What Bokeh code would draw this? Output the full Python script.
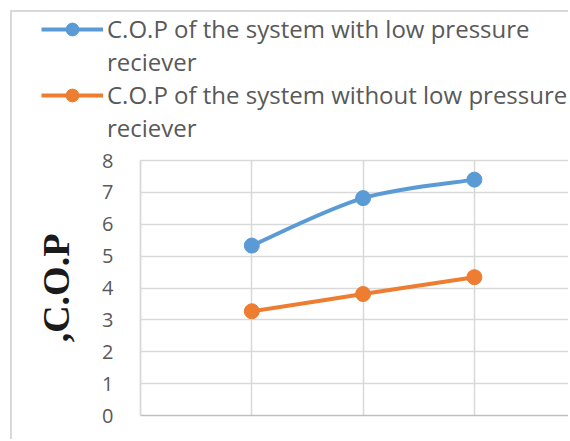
from bokeh.plotting import figure
from bokeh.models import Range1d, FixedTicker, Legend, LegendItem
from bokeh.embed import file_html
from bokeh.resources import INLINE

# ---- data ----
x_vals = [1, 2, 3]
cop_with = [5.33, 6.82, 7.40]
cop_without = [3.27, 3.81, 4.34]
series_labels = [
    ["C.O.P of the system with low pressure", "reciever"],
    ["C.O.P of the system without low pressure", "reciever"],
]
series_colors = ["#5B9BD5", "#ED7D31"]
y_ticks = [0, 1, 2, 3, 4, 5, 6, 7, 8]
x_ticks = [0, 1, 2, 3, 4]
y_label = ",C.O.P"

TEXT = "#595959"
GRID = "#d9d9d9"

# layout geometry (pixels, canvas coordinates)
W, H = 558, 429
Y0_PX = 403              # canvas y of value 0
X0_PX = 128              # canvas x of value 0
UX = 111.3               # px per x unit
UY = 31.875              # px per y unit
x_start = -X0_PX / UX
x_end = (W - X0_PX) / UX
x_grid_end = (W - 2 - X0_PX) / UX
y_start = -(H - Y0_PX) / UY
y_end = Y0_PX / UY
y_top = y_ticks[-1]

p = figure(width=W, height=H, x_range=Range1d(x_start, x_end), y_range=Range1d(y_start, y_end),
           output_backend="svg", toolbar_location=None,
           min_border_left=0, min_border_right=0, min_border_top=0, min_border_bottom=0)
p.margin = (10, 0, 0, 10)
p.styles = {"border-left": "2px solid #d9d9d9", "border-top": "2px solid #d9d9d9"}
p.outline_line_color = None

# grid
p.xgrid.ticker = FixedTicker(ticks=x_ticks)
p.ygrid.ticker = FixedTicker(ticks=y_ticks[1:])
p.grid.grid_line_color = GRID
p.grid.grid_line_width = 1.5
try:
    p.xgrid.cross_bounds = (0, y_top)
    p.ygrid.cross_bounds = (0, x_grid_end)
except Exception:
    p.grid.visible = False
    p.segment(x0=x_ticks, y0=[0] * len(x_ticks), x1=x_ticks, y1=[y_top] * len(x_ticks),
              line_color=GRID, line_width=1.5)
    p.segment(x0=[0] * len(y_ticks), y0=y_ticks, x1=[x_grid_end] * len(y_ticks), y1=y_ticks,
              line_color=GRID, line_width=1.5)

# x axis: just the base line at y = 0
p.xaxis.fixed_location = 0
p.xaxis.ticker = FixedTicker(ticks=[])
p.xaxis.bounds = (0, x_grid_end)
p.xaxis.major_tick_line_color = None
p.xaxis.minor_tick_line_color = None
p.xaxis.axis_line_color = "#bfbfbf"
p.xaxis.axis_line_width = 1.5

# y axis fixed at x = 0
p.yaxis.fixed_location = 0
p.yaxis.bounds = (0, y_top)
p.yaxis.ticker = FixedTicker(ticks=y_ticks)
p.yaxis.axis_line_color = GRID
p.yaxis.axis_line_width = 1.5
p.yaxis.major_tick_line_color = None
p.yaxis.minor_tick_line_color = None
p.yaxis.major_label_standoff = 21
p.yaxis.major_label_text_font = "Open Sans"
p.yaxis.major_label_text_font_size = "20px"
p.yaxis.major_label_text_color = TEXT
p.yaxis.axis_label = y_label
p.yaxis.axis_label_text_font = "Liberation Serif"
p.yaxis.axis_label_text_font_style = "bold"
p.yaxis.axis_label_text_font_size = "38px"
p.yaxis.axis_label_text_color = "#1a1a1a"
p.yaxis.axis_label_standoff = 22


def smooth_segments(xs, ys):
    # Catmull-Rom style cubic bezier segments through the data points
    n = len(xs)
    s = {"x0": [], "y0": [], "x1": [], "y1": [], "cx0": [], "cy0": [], "cx1": [], "cy1": []}
    for i in range(n - 1):
        xm, ym = (xs[i - 1], ys[i - 1]) if i > 0 else (xs[i], ys[i])
        xp, yp = (xs[i + 2], ys[i + 2]) if i + 2 < n else (xs[i + 1], ys[i + 1])
        s["x0"].append(xs[i]); s["y0"].append(ys[i])
        s["x1"].append(xs[i + 1]); s["y1"].append(ys[i + 1])
        s["cx0"].append(xs[i] + (xs[i + 1] - xm) / 6)
        s["cy0"].append(ys[i] + (ys[i + 1] - ym) / 6)
        s["cx1"].append(xs[i + 1] - (xp - xs[i]) / 6)
        s["cy1"].append(ys[i + 1] - (yp - ys[i]) / 6)
    return s


items = []
for ys, col, lines in zip([cop_with, cop_without], series_colors, series_labels):
    s = smooth_segments(x_vals, ys)
    p.bezier(x0=s["x0"], y0=s["y0"], x1=s["x1"], y1=s["y1"],
             cx0=s["cx0"], cy0=s["cy0"], cx1=s["cx1"], cy1=s["cy1"],
             line_color=col, line_width=4)
    sc = p.scatter(x_vals, ys, size=15, color=col)
    proxy = p.line(x=x_vals[:1], y=ys[:1], line_color=col, line_width=4)
    blank = p.scatter(x=x_vals[:1], y=ys[:1], size=1, alpha=0)
    items.append(LegendItem(label=lines[0], renderers=[proxy, sc]))
    items.append(LegendItem(label=lines[1], renderers=[blank]))

legend = Legend(items=items, location=(29, 297), orientation="vertical",
                glyph_width=62, glyph_height=32, label_height=32, label_standoff=4,
                spacing=0, padding=0, margin=0,
                label_text_font="Open Sans", label_text_font_size="24px",
                label_text_color=TEXT, label_text_baseline="middle",
                border_line_color=None, background_fill_alpha=0)
p.add_layout(legend, "center")

open("out.html", "w").write(file_html(p, INLINE))
